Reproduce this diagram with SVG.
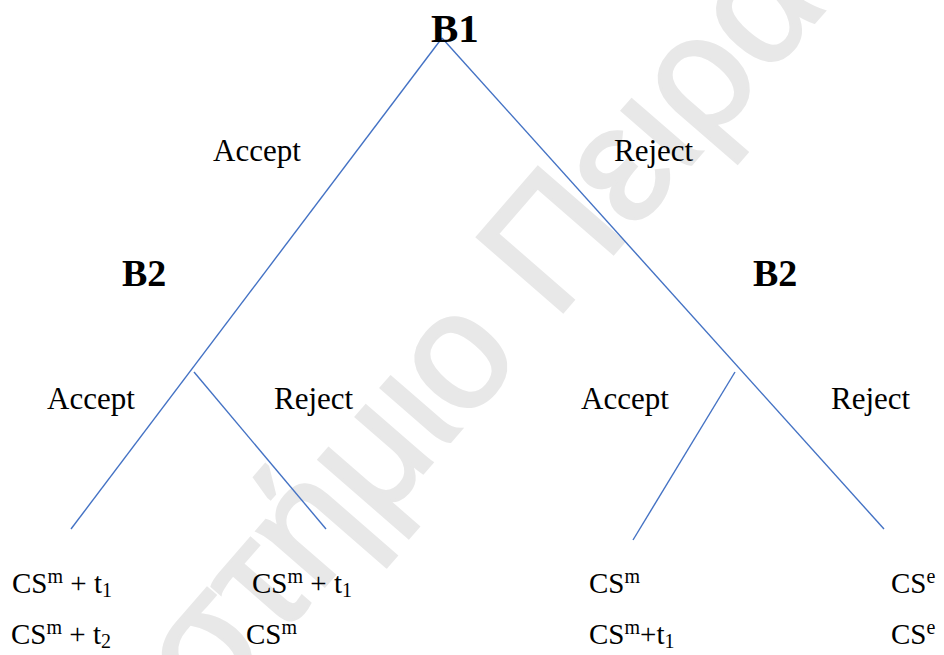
<svg xmlns="http://www.w3.org/2000/svg" width="944" height="655" viewBox="0 0 944 655">
  <style>
    .wm { font-family: "Liberation Sans", "DejaVu Sans", sans-serif; font-size: 165px; fill: #e8e8e8; stroke: #e8e8e8; stroke-width: 3; }
    .head { font-family: "Liberation Serif", "Times New Roman", serif; font-weight: bold; fill: #000; }
    .lbl { font-family: "Liberation Serif", "Times New Roman", serif; font-size: 31px; fill: #000; }
    .pay { font-family: "Liberation Serif", "Times New Roman", serif; font-size: 29px; fill: #000; }
    .sm { font-size: 20px; }
    .edge { stroke: #4472C4; stroke-width: 1.4; fill: none; }
  </style>
  <rect width="944" height="655" fill="#fff"/>

  <!-- faint background watermark -->
  <g id="watermark" transform="translate(528,352) rotate(-49)">
    <text class="wm"><tspan x="-6" text-anchor="end">Πανεπιστήμιο</tspan><tspan x="40">Πειραιά</tspan></text>
  </g>

  <!-- tree branches -->
  <g id="connectors">
    <line class="edge" x1="442" y1="38" x2="71" y2="529"/>
    <line class="edge" x1="442" y1="38" x2="884" y2="529"/>
    <line class="edge" x1="194" y1="372" x2="326" y2="529"/>
    <line class="edge" x1="735" y1="372" x2="633" y2="540"/>
  </g>

  <!-- decision nodes -->
  <g id="node-b1"><text class="head" x="431" y="42" font-size="41">B1</text></g>
  <g id="node-b2-left"><text class="head" x="122" y="286" font-size="38">B2</text></g>
  <g id="node-b2-right"><text class="head" x="753" y="286" font-size="38">B2</text></g>

  <!-- branch labels -->
  <g id="labels">
    <text class="lbl" x="213" y="161">Accept</text>
    <text class="lbl" x="614" y="161">Reject</text>
    <text class="lbl" x="47" y="409">Accept</text>
    <text class="lbl" x="274" y="409">Reject</text>
    <text class="lbl" x="581" y="409">Accept</text>
    <text class="lbl" x="831" y="409">Reject</text>
  </g>

  <!-- outcomes (B1 payoff above, B2 payoff below) -->
  <g id="outcome-aa">
    <text class="pay" x="12" y="593">CS<tspan class="sm" dy="-10">m</tspan><tspan dy="10"> + t</tspan><tspan class="sm" dy="4">1</tspan></text>
    <text class="pay" x="11" y="644">CS<tspan class="sm" dy="-10">m</tspan><tspan dy="10"> + t</tspan><tspan class="sm" dy="4">2</tspan></text>
  </g>
  <g id="outcome-ar">
    <text class="pay" x="252" y="593">CS<tspan class="sm" dy="-10">m</tspan><tspan dy="10"> + t</tspan><tspan class="sm" dy="4">1</tspan></text>
    <text class="pay" x="246" y="644">CS<tspan class="sm" dy="-10">m</tspan></text>
  </g>
  <g id="outcome-ra">
    <text class="pay" x="589" y="593">CS<tspan class="sm" dy="-10">m</tspan></text>
    <text class="pay" x="589" y="644">CS<tspan class="sm" dy="-10">m</tspan><tspan dy="10">+t</tspan><tspan class="sm" dy="4">1</tspan></text>
  </g>
  <g id="outcome-rr">
    <text class="pay" x="891" y="593">CS<tspan class="sm" dy="-10">e</tspan></text>
    <text class="pay" x="891" y="644">CS<tspan class="sm" dy="-10">e</tspan></text>
  </g>
</svg>
